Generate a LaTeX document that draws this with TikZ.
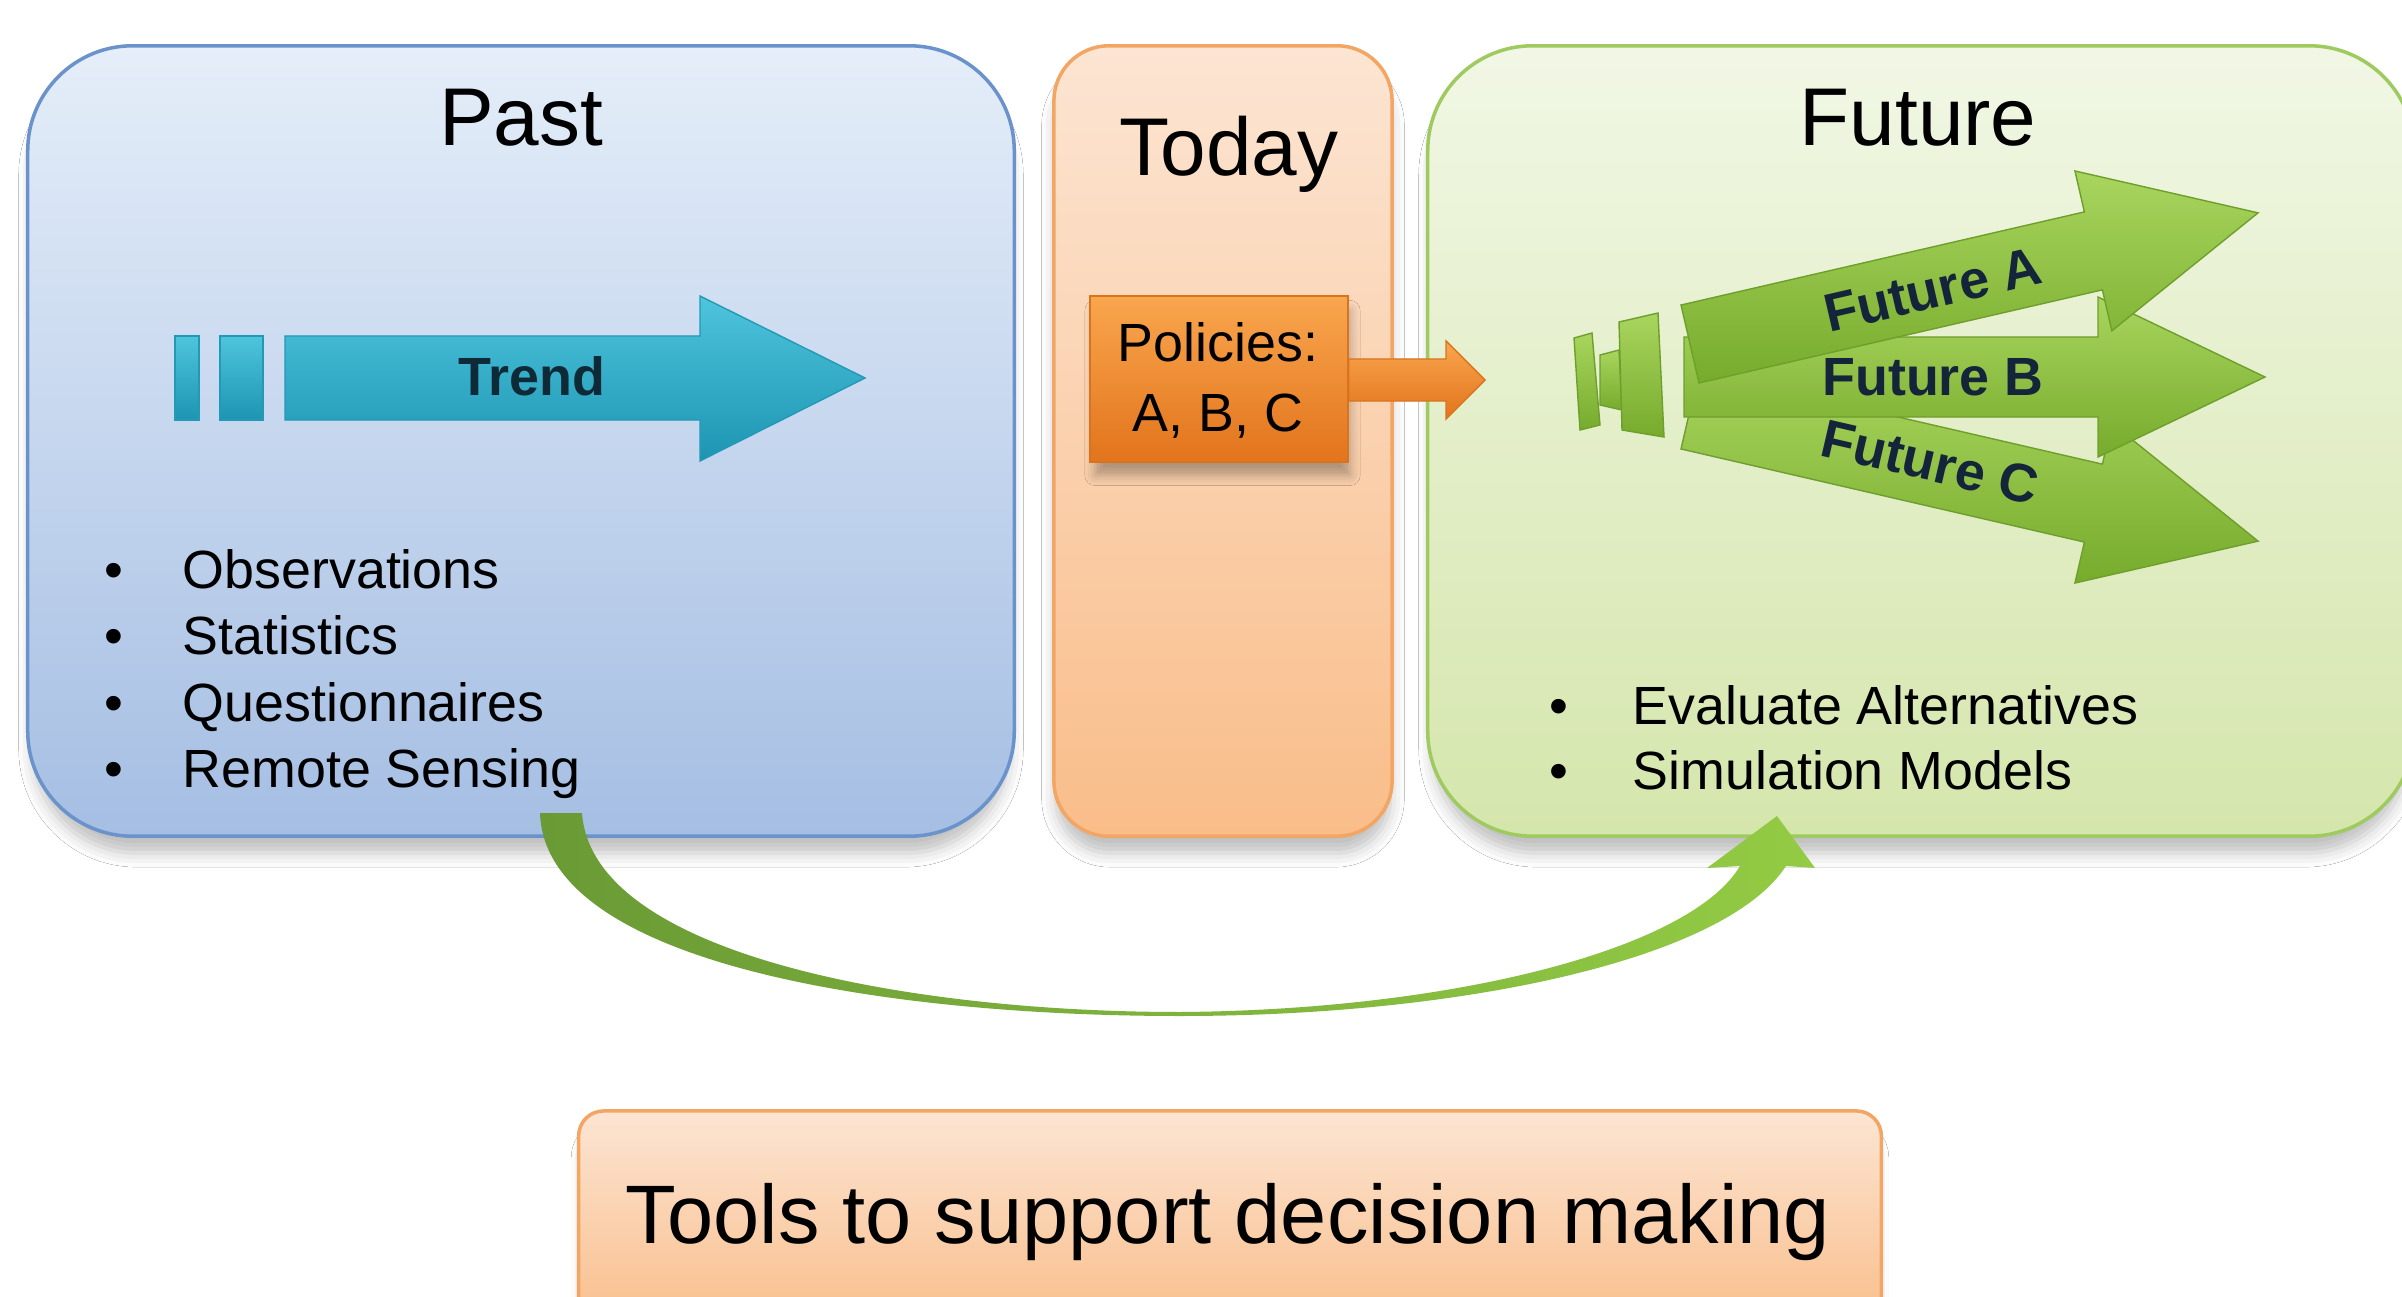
\documentclass[tikz,border=0pt]{standalone}
\usepackage{fontspec}
\setmainfont{Liberation Sans}
\usetikzlibrary{calc,shadows.blur}
\definecolor{pastTop}{HTML}{E5EEF9}
\definecolor{pastBot}{HTML}{A5BEE3}
\definecolor{pastLine}{HTML}{6B93CB}
\definecolor{todTop}{HTML}{FCE5D3}
\definecolor{todBot}{HTML}{F9BD89}
\definecolor{todLine}{HTML}{F3A564}
\definecolor{futTop}{HTML}{F1F7E5}
\definecolor{futBot}{HTML}{D5E6AC}
\definecolor{futLine}{HTML}{9FCA60}
\definecolor{trendTop}{HTML}{4EC4DD}
\definecolor{trendBot}{HTML}{1D95B2}
\definecolor{trendLine}{HTML}{2399B5}
\definecolor{grnTop}{HTML}{A9D55E}
\definecolor{grnBot}{HTML}{76AB2C}
\definecolor{grnLine}{HTML}{6E9F2C}
\definecolor{polTop}{HTML}{F9A64E}
\definecolor{polBot}{HTML}{E2741C}
\definecolor{polLine}{HTML}{D9741E}
\definecolor{navy}{HTML}{14243A}
\definecolor{darkteal}{HTML}{0E2A36}
\definecolor{curveL}{HTML}{6A9A35}
\definecolor{curveM}{HTML}{D2E4BA}
\definecolor{curveR}{HTML}{93CB44}
\tikzset{
  panel/.style={draw, line width=1pt,
    blur shadow={shadow xshift=0pt, shadow yshift=-6pt, shadow blur radius=4pt, shadow scale=0.99, shadow opacity=25}},
  titletext/.style={anchor=base, font=\fontsize{23.3}{28}\selectfont},
  bultext/.style={anchor=base west, inner xsep=0pt, font=\fontsize{15.3}{18}\selectfont},
  buldot/.style={anchor=base, font=\fontsize{15.3}{18}\selectfont},
  arrlabel/.style={inner sep=0pt, font=\bfseries\fontsize{15.3}{18}\selectfont, text=navy},
  trendfill/.style={top color=trendTop, bottom color=trendBot, draw=trendLine, line width=0.4pt},
  grnfill/.style={top color=grnTop, bottom color=grnBot, draw=grnLine, line width=0.4pt},
}
\begin{document}
\begin{tikzpicture}[x=0.01cm, y=-0.01cm]
\useasboundingbox (0,0) rectangle (2402,1297);
\fill[white] (0,0) rectangle (2402,1297);

% panels
\node[panel, draw=pastLine, top color=pastTop, bottom color=pastBot,
  rounded corners=1.05cm, minimum width=9.86cm, minimum height=7.9cm] (past) at (521,441) {};
\node[panel, draw=todLine, top color=todTop, bottom color=todBot,
  rounded corners=0.55cm, minimum width=3.38cm, minimum height=7.9cm] (today) at (1223,441) {};
\node[panel, draw=futLine, top color=futTop, bottom color=futBot,
  rounded corners=1.05cm, minimum width=9.86cm, minimum height=7.9cm] (future) at (1921,441) {};

% titles
\node[titletext] (tpast) at (521,146) {Past};
\node[titletext] (ttoday) at (1229,176) {Today};
\node[titletext] (tfuture) at (1918,146) {Future};

% trend arrow
\path[trendfill] (175,336) rectangle (199,420);
\path[trendfill] (220,336) rectangle (263,420);
\path[trendfill] (285,336) -- (700,336) -- (700,296) -- (865,378) -- (700,461) -- (700,420) -- (285,420) -- cycle;
\node[font=\bfseries\fontsize{15.3}{18}\selectfont, text=darkteal, anchor=base] (trend) at (532,396) {Trend};

% past bullets
\foreach \t [count=\i from 0] in {Observations, Statistics, Questionnaires, Remote Sensing}{
  \node[buldot] (pd\i) at (114,{588+66.5*\i}) {•};
  \node[bultext] (pb\i) at (182,{588+66.5*\i}) {\t};
}

% policies
\node[top color=polTop, bottom color=polBot, draw=polLine, line width=0.6pt,
  minimum width=2.57cm, minimum height=1.66cm,
  blur shadow={shadow xshift=1pt, shadow yshift=-4pt, shadow blur radius=3pt, shadow scale=0.99, shadow opacity=30}] (pol) at (1219,379) {};
\node[titletext, font=\fontsize{15.3}{18}\selectfont] (pol1) at (1218,362) {Policies:};
\node[titletext, font=\fontsize{15.3}{18}\selectfont] (pol2) at (1218,431) {A, B, C};
\coordinate (tipO) at (1485,380);
\path[top color=polTop, bottom color=polBot, draw=polLine, line width=0.4pt]
  ($(pol.east)+(0,-20)$) -- (1446,359) -- (1446,341) -- (tipO) -- (1446,419) -- (1446,401) -- ($(pol.east)+(0,22)$) -- cycle;

% future arrows (C, B, A order)
\path[grnfill] (1574,338) -- (1592,333) -- (1600,425) -- (1580,430) -- cycle;
\path[grnfill] (1600,355) -- (1619,350) -- (1622,410) -- (1600,405) -- cycle;
\path[grnfill] (1619,322) -- (1658,313) -- (1664,437) -- (1622,430) -- cycle;
\begin{scope}[shift={(1690,410)}, rotate=-13]
  \path[grnfill] (0,-40) -- (414,-40) -- (414,-82) -- (583,0) -- (414,82) -- (414,40) -- (0,40) -- cycle;
\end{scope}
\begin{scope}[shift={(1684,377)}]
  \path[grnfill] (0,-40) -- (414,-40) -- (414,-80) -- (581,0) -- (414,80) -- (414,40) -- (0,40) -- cycle;
\end{scope}
\begin{scope}[shift={(1690,344)}, rotate=13]
  \path[grnfill] (0,-40) -- (414,-40) -- (414,-82) -- (583,0) -- (414,82) -- (414,40) -- (0,40) -- cycle;
\end{scope}
\node[arrlabel, rotate=13] (fa) at (1933,290) {Future A};
\node[arrlabel] (fb) at (1933,377) {Future B};
\node[arrlabel, rotate=-13] (fc) at (1930,462) {Future C};

% future bullets
\foreach \t [count=\i from 0] in {Evaluate Alternatives, Simulation Models}{
  \node[buldot] (fd\i) at (1559,{724+65*\i}) {•};
  \node[bultext] (fbl\i) at (1632,{724+65*\i}) {\t};
}

% curved arrow from past to future
\path[left color=curveL, middle color=curveM, right color=curveR]
  (540,813) .. controls (545,965) and (890,1016) .. (1180,1016)
  .. controls (1460,1016) and (1725,960) .. (1786,866)
  -- (1815,868) -- (1777,816) -- (1707,868) -- (1740,866)
  .. controls (1690,950) and (1450,1010) .. (1180,1012)
  .. controls (910,1012) and (592,955) .. (582,813) -- cycle;

% bottom box
\node[panel, draw=todLine, top color=todTop, bottom color=todBot,
  rounded corners=0.25cm, minimum width=13.02cm, minimum height=2.2cm] (tools) at (1230,1221) {};
\node[titletext, font=\fontsize{23.6}{28}\selectfont] (toolst) at (1228,1243) {Tools to support decision making};
\end{tikzpicture}
\end{document}
